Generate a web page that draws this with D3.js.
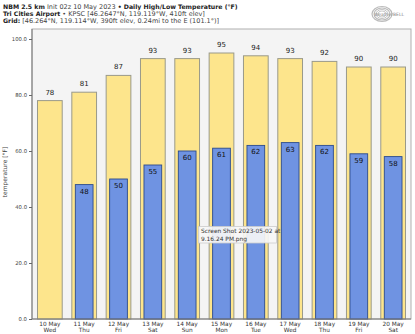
<!DOCTYPE html>
<html><head><meta charset="utf-8">
<script src="https://cdn.jsdelivr.net/npm/d3@7"></script>
<style>body{margin:0;background:#fff}svg{display:block}text{font-family:"DejaVu Sans",Verdana,sans-serif}</style>
</head><body>
<svg id="c" width="415" height="334"></svg>
<script>
const days = ["10 May","11 May","12 May","13 May","14 May","15 May","16 May","17 May","18 May","19 May","20 May"];
const weekdays = ["Wed","Thu","Fri","Sat","Sun","Mon","Tue","Wed","Thu","Fri","Sat"];
const highs = [78,81,87,93,93,95,94,93,92,90,90];
const lows = [null,48,50,55,60,61,62,63,62,59,58];
const yTicks = [0,20,40,60,80,100];

const svg = d3.select("#c");
const L=32, R=411, T=29, B=319;
const y = d3.scaleLinear().domain([0,100]).range([B,39]);
const x = d3.scaleBand().domain(days).range([L,R]).paddingInner(0.28).paddingOuter(0.16);

svg.append("rect").attr("x",L).attr("y",T).attr("width",R-L).attr("height",B-T)
  .attr("fill","#f4f4f4").attr("stroke","#b0b0b0").attr("stroke-width",1);

// highs
svg.selectAll(".hb").data(days).join("rect")
  .attr("x",d=>x(d)).attr("width",x.bandwidth())
  .attr("y",(d,i)=>y(highs[i])).attr("height",(d,i)=>y(0)-y(highs[i]))
  .attr("fill","#fde58c").attr("stroke","#9a9a8a").attr("stroke-width",1);
svg.selectAll(".ht").data(days).join("text")
  .attr("x",d=>x(d)+x.bandwidth()/2).attr("y",(d,i)=>y(highs[i])-6)
  .attr("text-anchor","middle").attr("font-size",7).attr("fill","#222").text((d,i)=>highs[i]);

// lows
const li = days.map((d,i)=>i).filter(i=>lows[i]!=null);
svg.selectAll(".lb").data(li).join("rect")
  .attr("x",i=>x(days[i])+3.5).attr("width",x.bandwidth()-7)
  .attr("y",i=>y(lows[i])).attr("height",i=>y(0)-y(lows[i]))
  .attr("fill","#6f93e2").attr("stroke","#2a4a8c").attr("stroke-width",0.9);
svg.selectAll(".lt").data(li).join("text")
  .attr("x",i=>x(days[i])+x.bandwidth()/2).attr("y",i=>y(lows[i])+9)
  .attr("text-anchor","middle").attr("font-size",7).attr("fill","#111").text(i=>lows[i]);

// axis lines
svg.append("line").attr("x1",L).attr("x2",L).attr("y1",T).attr("y2",B).attr("stroke","#777");
svg.append("line").attr("x1",L).attr("x2",R).attr("y1",B).attr("y2",B).attr("stroke","#777");

// y axis
const ya = svg.append("g").attr("transform",`translate(${L},0)`)
  .call(d3.axisLeft(y).tickValues(yTicks).tickFormat(d3.format(".1f")).tickSize(3).tickPadding(2));
ya.select(".domain").remove();
ya.selectAll("text").attr("font-size",5.3).attr("fill","#444").attr("font-family","DejaVu Sans");
ya.selectAll("line").attr("stroke","#666");

svg.append("text").attr("transform","translate(7,172) rotate(-90)").attr("text-anchor","middle")
  .attr("font-size",6).attr("fill","#444").text("temperature [°F]");

// x axis
const xa = svg.append("g").attr("transform",`translate(0,${B})`)
  .call(d3.axisBottom(x).tickSize(0).tickPadding(0).tickFormat(""));
xa.select(".domain").remove();
xa.selectAll(".tick").each(function(d,i){
  const t=d3.select(this).append("text").attr("text-anchor","middle").attr("font-size",5.8).attr("fill","#333");
  t.append("tspan").attr("x",0).attr("y",6.5).text(d);
  t.append("tspan").attr("x",0).attr("y",13).text(weekdays[i]);
});

// header
const hdr = [
  [["NBM 2.5 km",true],[" Init 02z 10 May 2023",false],[" • ",true],["Daily High/Low Temperature (°F)",true]],
  [["Tri Cities Airport",true],[" • KPSC [46.2647°N, 119.119°W, 410ft elev]",false]],
  [["Grid:",true],[" [46.264°N, 119.114°W, 390ft elev, 0.24mi to the E (101.1°)]",false]]
];
hdr.forEach((line,k)=>{
  const t=svg.append("text").attr("x",3).attr("y",8.5+k*7.3).attr("font-size",6.2).attr("fill","#222");
  line.forEach(([s,b])=>t.append("tspan").attr("font-weight",b?"bold":"normal").attr("font-size",b?null:6.5).attr("fill",b?"#222":"#444").text(s));
});

// logo
const lg = svg.append("g").attr("transform","translate(385,14)");
[10,8,6,4].forEach((r,k)=>lg.append("ellipse").attr("cx",-3).attr("cy",0).attr("rx",r).attr("ry",r*0.75)
  .attr("fill","none").attr("stroke","#aaa").attr("stroke-width",1.2-k*0.15).attr("opacity",0.8));
lg.append("text").attr("x",4).attr("y",1.8).attr("font-size",4.5).attr("fill","#888").attr("font-family","Liberation Serif")
  .attr("text-anchor","middle").text("WeatherBELL");

// screenshot tooltip overlay
const tt = svg.append("g");
tt.append("rect").attr("x",198.5).attr("y",226.5).attr("width",78).attr("height",16.5)
  .attr("fill","#f6f6f6").attr("fill-opacity",0.92).attr("stroke","#ccc").attr("stroke-width",0.8);
tt.append("text").attr("x",201).attr("y",233).attr("font-size",5.9).attr("fill","#333").text("Screen Shot 2023-05-02 at");
tt.append("text").attr("x",201).attr("y",240.5).attr("font-size",5.9).attr("fill","#333").text("9.16.24 PM.png");
</script>
</body></html>
